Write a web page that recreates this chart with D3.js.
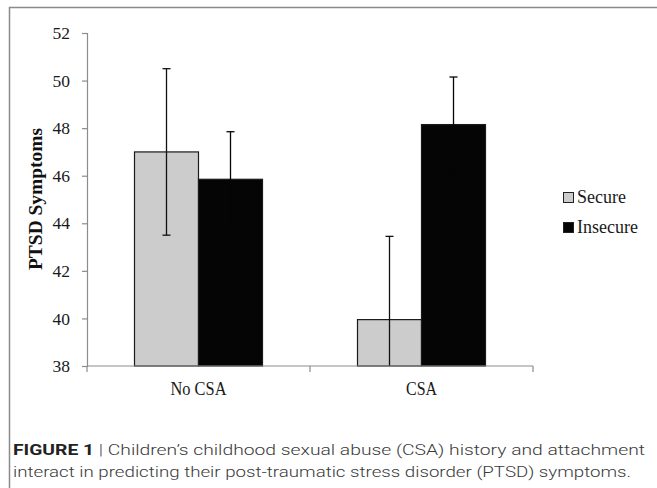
<!DOCTYPE html>
<html>
<head>
<meta charset="utf-8">
<script src="https://cdn.jsdelivr.net/npm/d3@7"></script>
<style>
  html, body { margin: 0; padding: 0; background: #fff; }
  svg { display: block; }
</style>
</head>
<body>
<svg id="chart" width="657" height="488"></svg>
<script>
// Groups, attachment series and their means / error margins
const categories = ["No CSA", "CSA"];
const seriesNames = ["Secure", "Insecure"];
const secureMeans = [47.0, 39.95];
const secureErrors = [3.5, 3.5];
const insecureMeans = [45.85, 48.15];
const insecureErrors = [2.0, 2.0];
const yTicks = [38, 40, 42, 44, 46, 48, 50, 52];
const yLabel = "PTSD Symptoms";
const captionLines = [
  ["FIGURE 1", " | ", "Children\u2019s childhood sexual abuse (CSA) history and attachment"],
  ["", "", "interact in predicting their post-traumatic stress disorder (PTSD) symptoms."]
];

const colors = { Secure: "#cccccc", Insecure: "#050505" };
const rows = categories.map((c, i) => ({
  category: c,
  values: [
    { series: "Secure", mean: secureMeans[i], err: secureErrors[i] },
    { series: "Insecure", mean: insecureMeans[i], err: insecureErrors[i] }
  ]
}));

const svg = d3.select("#chart");
const serif = "'Liberation Serif', 'DejaVu Serif', serif";
const sans = "Roboto, 'Liberation Sans', Arial, sans-serif";

// Frame around the figure
svg.append("path")
  .attr("d", "M9.5,488 V7.5 H657")
  .attr("fill", "none")
  .attr("stroke", "#8a8a8a")
  .attr("stroke-width", 1.5);

const plot = { left: 87, right: 533, top: 33, bottom: 366 };

const y = d3.scaleLinear().domain([38, 52]).range([plot.bottom, plot.top]);
const x0 = d3.scaleBand().domain(categories).range([plot.left, plot.right]);
const groupWidth = 128;
const x1 = d3.scaleBand().domain(seriesNames).range([0, groupWidth]);

// Bars
const groups = svg.append("g").selectAll("g").data(rows).join("g")
  .attr("transform", d => `translate(${x0(d.category) + (x0.bandwidth() - groupWidth) / 2},0)`);

groups.selectAll("rect").data(d => d.values).join("rect")
  .attr("x", d => x1(d.series))
  .attr("y", d => y(d.mean))
  .attr("width", x1.bandwidth())
  .attr("height", d => y(38) - y(d.mean))
  .attr("fill", d => colors[d.series])
  .attr("stroke", "#1a1a1a")
  .attr("stroke-width", 1.2);

// Error bars (the lower whisker stops at the axis floor)
const eb = groups.selectAll("g.eb").data(d => d.values).join("g")
  .attr("class", "eb")
  .attr("stroke", d => d.series === "Insecure" ? "#050505" : "#111")
  .attr("stroke-width", 1.3);
eb.append("line")
  .attr("x1", d => x1(d.series) + x1.bandwidth() / 2)
  .attr("x2", d => x1(d.series) + x1.bandwidth() / 2)
  .attr("y1", d => y(d.mean + d.err))
  .attr("y2", d => Math.min(y(d.mean - d.err), plot.bottom));
eb.append("line")
  .attr("x1", d => x1(d.series) + x1.bandwidth() / 2 - 4)
  .attr("x2", d => x1(d.series) + x1.bandwidth() / 2 + 4)
  .attr("y1", d => y(d.mean + d.err))
  .attr("y2", d => y(d.mean + d.err));
eb.filter(d => y(d.mean - d.err) <= plot.bottom).append("line")
  .attr("x1", d => x1(d.series) + x1.bandwidth() / 2 - 4)
  .attr("x2", d => x1(d.series) + x1.bandwidth() / 2 + 4)
  .attr("y1", d => y(d.mean - d.err))
  .attr("y2", d => y(d.mean - d.err));

// Y axis
const yAxis = svg.append("g")
  .attr("transform", `translate(${plot.left},0)`)
  .call(d3.axisLeft(y).tickValues(yTicks).tickSize(5).tickPadding(12).tickFormat(d3.format("d")));
yAxis.select(".domain").attr("stroke", "#8c8c8c").attr("stroke-width", 1.2);
yAxis.selectAll(".tick line").attr("stroke", "#8c8c8c").attr("stroke-width", 1.2);
yAxis.selectAll(".tick text")
  .attr("font-family", serif).attr("font-size", 17.5).attr("fill", "#1a1a1a");

// X axis: ticks at category boundaries
const xAxisG = svg.append("g").attr("transform", `translate(0,${plot.bottom})`);
xAxisG.append("line")
  .attr("x1", plot.left).attr("x2", plot.right)
  .attr("stroke", "#8c8c8c").attr("stroke-width", 1.2);
const boundaries = categories.map(c => x0(c)).concat([x0(categories[categories.length - 1]) + x0.bandwidth()]);
xAxisG.selectAll("line.tk").data(boundaries).join("line")
  .attr("class", "tk")
  .attr("x1", d => d).attr("x2", d => d)
  .attr("y1", 0).attr("y2", 6)
  .attr("stroke", "#8c8c8c").attr("stroke-width", 1.2);
const catWidths = { "No CSA": 56, "CSA": 31 };
xAxisG.selectAll("text").data(categories).join("text")
  .attr("x", d => x0(d) + x0.bandwidth() / 2 - catWidths[d] / 2)
  .attr("y", 29)
  .attr("font-family", serif).attr("font-size", 18).attr("fill", "#1a1a1a")
  .attr("textLength", d => catWidths[d])
  .attr("lengthAdjust", "spacingAndGlyphs")
  .text(d => d);

// Y axis title
svg.append("text")
  .attr("transform", `translate(41.5,270) rotate(-90)`)
  .attr("font-family", serif).attr("font-size", 19).attr("font-weight", "bold")
  .attr("fill", "#111")
  .attr("textLength", 142)
  .attr("lengthAdjust", "spacingAndGlyphs")
  .text(yLabel);

// Legend
const legend = svg.append("g").selectAll("g").data(seriesNames).join("g")
  .attr("transform", (d, i) => `translate(563,${192 + i * 30})`);
legend.append("rect")
  .attr("x", 0.5).attr("y", 0.5).attr("width", 10).attr("height", 10)
  .attr("fill", d => colors[d]).attr("stroke", "#222").attr("stroke-width", 1);
legend.append("text")
  .attr("x", 14).attr("y", 11)
  .attr("font-family", serif).attr("font-size", 18).attr("fill", "#1a1a1a")
  .text(d => d);

// Caption
const cap = svg.append("g");
captionLines.forEach((parts, i) => {
  const t = cap.append("text")
    .attr("x", 13).attr("y", 455 + i * 22)
    .attr("font-family", sans).attr("font-size", 15.5).attr("font-weight", 300)
    .attr("fill", "#3a3a3a")
    .attr("textLength", i === 0 ? 632 : 618)
    .attr("lengthAdjust", "spacingAndGlyphs");
  if (parts[0]) t.append("tspan").attr("font-weight", "bold").attr("fill", "#222").text(parts[0]);
  if (parts[1]) t.append("tspan").attr("fill", "#444").text(parts[1]);
  t.append("tspan").text(parts[2]);
});
</script>
</body>
</html>
